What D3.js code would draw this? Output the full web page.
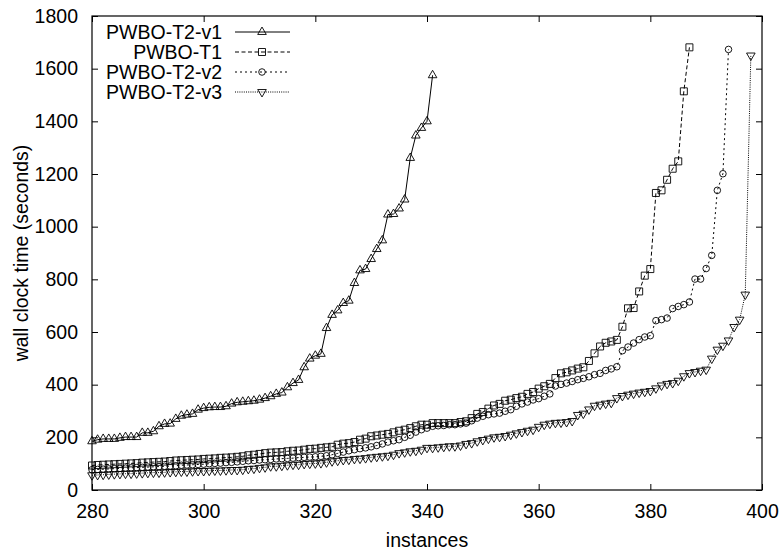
<!DOCTYPE html>
<html>
<head>
<meta charset="utf-8">
<script src="https://cdn.jsdelivr.net/npm/d3@7"></script>
<style>
  body { margin: 0; background: #fff; }
  text { font-family: "Liberation Sans", Arial, Helvetica, sans-serif; fill: #000; }
</style>
</head>
<body>
<div id="graph"></div>
<script>
// first instance shown on the x axis (each series has one point per instance)
var premiereInstance = 280;

// wall clock time (seconds), sorted, one value per instance from 280 on
var tempsV1 = [185, 191, 194, 194, 194, 198, 201, 201, 201, 217, 217, 223, 242, 251, 252, 270, 282, 286, 289, 305,
  311, 314, 315, 315, 318, 328, 333, 335, 337, 339, 343, 349, 356, 365, 370, 390, 406, 418, 466, 499,
  510, 517, 615, 665, 682, 710, 719, 786, 834, 839, 877, 915, 948, 1046, 1048, 1069, 1103, 1261, 1346, 1375,
  1400, 1575];

var tempsT1 = [93, 95, 96, 97, 98, 99, 100, 101, 102, 104, 105, 106, 107, 108, 110, 112, 113, 114, 115, 116,
  118, 119, 120, 122, 123, 124, 126, 128, 132, 134, 137, 140, 142, 143, 144, 147, 149, 150, 153, 156,
  157, 160, 162, 164, 172, 176, 178, 182, 191, 195, 204, 207, 210, 213, 219, 225, 229, 235, 242, 248,
  248, 254, 254, 254, 254, 254, 258, 261, 273, 289, 296, 309, 321, 327, 339, 343, 349, 354, 365, 372,
  385, 394, 403, 425, 443, 447, 454, 461, 466, 490, 519, 545, 559, 564, 570, 620, 690, 691, 754, 814,
  839, 1128, 1138, 1178, 1220, 1248, 1514, 1681];

var tempsV2 = [77, 78, 79, 80, 81, 82, 83, 84, 85, 86, 87, 88, 89, 90, 91, 92, 94, 95, 96, 97,
  98, 100, 101, 102, 104, 105, 107, 109, 111, 112, 114, 115, 116, 118, 119, 120, 121, 123, 124, 125,
  126, 128, 130, 134, 139, 144, 149, 153, 157, 160, 164, 169, 175, 182, 187, 191, 200, 208, 220, 229,
  235, 242, 244, 245, 248, 248, 251, 254, 263, 273, 280, 286, 289, 292, 299, 305, 318, 327, 334, 342,
  347, 356, 365, 395, 401, 406, 412, 419, 424, 430, 438, 443, 454, 460, 468, 529, 543, 558, 571, 581,
  586, 643, 647, 653, 689, 697, 704, 714, 801, 801, 841, 891, 1138, 1201, 1673];

var tempsV3 = [56, 57, 58, 59, 60, 61, 62, 62, 63, 64, 65, 66, 66, 67, 68, 69, 70, 70, 71, 72,
  72, 73, 74, 74, 75, 76, 76, 77, 80, 81, 84, 86, 90, 90, 92, 94, 96, 96, 99, 100,
  101, 102, 105, 109, 111, 114, 115, 118, 119, 121, 124, 126, 128, 130, 134, 140, 143, 147, 149, 153,
  160, 160, 162, 164, 166, 166, 169, 175, 178, 185, 190, 195, 200, 202, 205, 210, 215, 220, 225, 229,
  240, 248, 252, 255, 256, 258, 262, 285, 290, 306, 320, 324, 328, 331, 349, 357, 362, 366, 370, 373,
  376, 386, 397, 403, 406, 415, 432, 444, 448, 453, 457, 499, 533, 548, 568, 619, 647, 742, 1650];

var nomsSeries = ["PWBO-T2-v1", "PWBO-T1", "PWBO-T2-v2", "PWBO-T2-v3"];
var ticksX = [280, 300, 320, 340, 360, 380, 400];
var ticksY = [0, 200, 400, 600, 800, 1000, 1200, 1400, 1600, 1800];

// styles for each series: dash pattern and marker
var series = [
  { nom: nomsSeries[0], valeurs: tempsV1, dash: null, symbole: d3.symbolTriangle, taille: 32, rot: 0 },
  { nom: nomsSeries[1], valeurs: tempsT1, dash: "4,2.5", symbole: d3.symbolSquare, taille: 49, rot: 0 },
  { nom: nomsSeries[2], valeurs: tempsV2, dash: "2,3", symbole: d3.symbolCircle, taille: 34, rot: 0 },
  { nom: nomsSeries[3], valeurs: tempsV3, dash: "1,1.2", symbole: d3.symbolTriangle, taille: 32, rot: 180 }
];

var taillePolice = "19.5px";

var marges = {haut: 16, droit: 20, bas: 61, gauche: 92},
    largeurTotale = 782,
    hauteurTotale = 551,
    largeurInterne = largeurTotale - marges.gauche - marges.droit,
    hauteurInterne = hauteurTotale - marges.haut - marges.bas;

var echelleX = d3.scaleLinear()
    .domain([280, 400])
    .range([0, largeurInterne]);

var echelleY = d3.scaleLinear()
    .domain([0, 1800])
    .range([hauteurInterne, 0]);

var svg = d3.select("#graph").append("svg")
    .attr("width", largeurTotale)
    .attr("height", hauteurTotale);

var graphique = svg.append("g")
    .attr("transform", "translate(" + marges.gauche + "," + marges.haut + ")");

// axes: ticks inward on all four sides, like gnuplot
var axeBas = d3.axisBottom(echelleX).tickValues(ticksX).tickFormat(d3.format("d"))
    .tickSizeInner(-6).tickSizeOuter(0).tickPadding(14);
var axeHaut = d3.axisTop(echelleX).tickValues(ticksX).tickFormat("")
    .tickSizeInner(-6).tickSizeOuter(0);
var axeGauche = d3.axisLeft(echelleY).tickValues(ticksY).tickFormat(d3.format("d"))
    .tickSizeInner(-6).tickSizeOuter(0).tickPadding(14);
var axeDroit = d3.axisRight(echelleY).tickValues(ticksY).tickFormat("")
    .tickSizeInner(-6).tickSizeOuter(0);

graphique.append("g")
    .attr("class", "x axis")
    .attr("transform", "translate(0," + hauteurInterne + ")")
  .call(axeBas);
graphique.append("g")
    .attr("class", "x axis")
  .call(axeHaut);
graphique.append("g")
    .attr("class", "y axis")
  .call(axeGauche);
graphique.append("g")
    .attr("class", "y axis")
    .attr("transform", "translate(" + largeurInterne + ",0)")
  .call(axeDroit);

graphique.selectAll(".axis path").remove();
graphique.selectAll(".axis line").attr("stroke", "#000").attr("stroke-width", 1);
graphique.selectAll(".axis text")
    .style("font-family", "'Liberation Sans', Arial, sans-serif")
    .style("font-size", taillePolice)
    .attr("fill", "#000");

// border box
graphique.append("rect")
    .attr("x", 0)
    .attr("y", 0)
    .attr("width", largeurInterne)
    .attr("height", hauteurInterne)
    .attr("fill", "none")
    .attr("stroke", "#000")
    .attr("stroke-width", 1.2);

// axis titles
svg.append("text")
    .attr("x", marges.gauche + largeurInterne / 2)
    .attr("y", 547)
    .style("text-anchor", "middle")
    .style("font-size", taillePolice)
    .text("instances");

svg.append("text")
    .attr("transform", "translate(28," + (marges.haut + hauteurInterne / 2) + ") rotate(-90)")
    .style("text-anchor", "middle")
    .style("font-size", taillePolice)
    .text("wall clock time (seconds)");

var ligne = d3.line()
    .x(function(d, i) { return echelleX(premiereInstance + i); })
    .y(function(d) { return echelleY(d); });

series.forEach(function(s) {
  graphique.append("path")
      .datum(s.valeurs)
      .attr("d", ligne)
      .attr("fill", "none")
      .attr("stroke", "#000")
      .attr("stroke-width", 1)
      .attr("stroke-dasharray", s.dash);

  graphique.selectAll(null)
      .data(s.valeurs)
      .enter()
      .append("path")
      .attr("d", d3.symbol().type(s.symbole).size(s.taille))
      .attr("transform", function(d, i) {
        return "translate(" + echelleX(premiereInstance + i) + "," + echelleY(d) + ") rotate(" + s.rot + ")";
      })
      .attr("fill", "none")
      .attr("stroke", "#000")
      .attr("stroke-width", 0.9);
});

// legend
var legende = svg.append("g");
series.forEach(function(s, i) {
  var y = 32 + i * 20;
  legende.append("text")
      .attr("x", 222)
      .attr("y", y)
      .attr("dy", "0.35em")
      .style("text-anchor", "end")
      .style("font-size", taillePolice)
      .text(s.nom);
  legende.append("line")
      .attr("x1", 235)
      .attr("x2", 290)
      .attr("y1", y)
      .attr("y2", y)
      .attr("stroke", "#000")
      .attr("stroke-width", 1)
      .attr("stroke-dasharray", s.dash);
  legende.append("path")
      .attr("d", d3.symbol().type(s.symbole).size(s.taille))
      .attr("transform", "translate(262," + y + ") rotate(" + s.rot + ")")
      .attr("fill", "none")
      .attr("stroke", "#000")
      .attr("stroke-width", 0.9);
});
</script>
</body>
</html>
